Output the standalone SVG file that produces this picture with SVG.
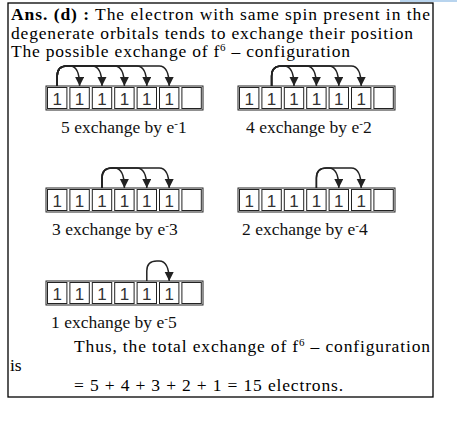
<svg xmlns="http://www.w3.org/2000/svg" width="457" height="433" viewBox="0 0 457 433">
<style>
.t{font-family:"Liberation Serif","Times New Roman",serif;font-size:17.5px;fill:#000}
.l{font-family:"Liberation Serif","Times New Roman",serif;font-size:17.5px;fill:#111}
.d{font-family:"Liberation Sans",Arial,sans-serif;font-size:17px;fill:#333;text-anchor:middle}
.o{fill:#fff;stroke:#222;stroke-width:1}
.c{fill:none;stroke:#222;stroke-width:1}
.a{fill:none;stroke:#222;stroke-width:1.5;marker-end:url(#ah)}
</style>
<defs>
<marker id="ah" markerUnits="userSpaceOnUse" markerWidth="9" markerHeight="10" refX="9" refY="4.5" orient="auto">
<path d="M0,0 L9,4.5 L0,9 z" fill="#222"/>
</marker>
<g id="cells">
<rect class="o" x="0" y="0" width="157" height="24"/>
<rect class="c" x="1.5" y="1.5" width="19.4" height="21"/>
<rect class="c" x="23.9" y="1.5" width="19.4" height="21"/>
<rect class="c" x="46.3" y="1.5" width="19.4" height="21"/>
<rect class="c" x="68.7" y="1.5" width="19.4" height="21"/>
<rect class="c" x="91.1" y="1.5" width="19.4" height="21"/>
<rect class="c" x="113.5" y="1.5" width="19.4" height="21"/>
<rect class="c" x="135.9" y="1.5" width="19.4" height="21"/>
<text class="d" x="11.2" y="18.5">1</text>
<text class="d" x="33.6" y="18.5">1</text>
<text class="d" x="56" y="18.5">1</text>
<text class="d" x="78.4" y="18.5">1</text>
<text class="d" x="100.8" y="18.5">1</text>
<text class="d" x="123.2" y="18.5">1</text>
</g>
</defs>
<rect x="400" y="0" width="57" height="2" fill="#b8d4ee"/>
<rect x="8" y="3" width="425" height="394" fill="none" stroke="#000" stroke-width="1.3"/>
<g id="header">
<text class="t" x="11" y="20" textLength="419" lengthAdjust="spacing"><tspan font-weight="bold">Ans. (d) :</tspan> The electron with same spin present in the</text>
<text class="t" x="11" y="38.5" textLength="402" lengthAdjust="spacing">degenerate orbitals tends to exchange their position</text>
<text class="t" x="11" y="57" textLength="339" lengthAdjust="spacing">The possible exchange of f<tspan font-size="11" dy="-6">6</tspan><tspan dy="6"> – configuration</tspan></text>
</g>
<g id="box-e1">
<use href="#cells" x="46" y="86"/>
<text class="l" x="61" y="133">5 exchange by e<tspan font-size="11" dy="-6">-</tspan><tspan dy="6">1</tspan></text>
</g>
<g id="box-e2">
<use href="#cells" x="238" y="86"/>
<text class="l" x="246" y="133">4 exchange by e<tspan font-size="11" dy="-6">-</tspan><tspan dy="6">2</tspan></text>
</g>
<g id="box-e3">
<use href="#cells" x="46" y="188"/>
<text class="l" x="52" y="235">3 exchange by e<tspan font-size="11" dy="-6">-</tspan><tspan dy="6">3</tspan></text>
</g>
<g id="box-e4">
<use href="#cells" x="238" y="188"/>
<text class="l" x="242" y="235">2 exchange by e<tspan font-size="11" dy="-6">-</tspan><tspan dy="6">4</tspan></text>
</g>
<g id="box-e5">
<use href="#cells" x="46" y="281"/>
<text class="l" x="51" y="328">1 exchange by e<tspan font-size="11" dy="-6">-</tspan><tspan dy="6">5</tspan></text>
</g>
<g id="connectors">
<path class="a" d="M57.2 86 L57.2 76 Q57.2 66 67 66 L70 66 Q79.6 66 79.6 86"/>
<path class="a" d="M57.2 86 L57.2 76 Q57.2 66 67 66 L92 66 Q102 66 102 86"/>
<path class="a" d="M57.2 86 L57.2 76 Q57.2 66 67 66 L114.4 66 Q124.4 66 124.4 86"/>
<path class="a" d="M57.2 86 L57.2 76 Q57.2 66 67 66 L136.8 66 Q146.8 66 146.8 86"/>
<path class="a" d="M57.2 86 L57.2 76 Q57.2 66 67 66 L159.2 66 Q169.2 66 169.2 86"/>
<path class="a" d="M271.6 86 L271.6 76 Q271.6 66 281.6 66 L284 66 Q294 66 294 86"/>
<path class="a" d="M271.6 86 L271.6 76 Q271.6 66 281.6 66 L306.4 66 Q316.4 66 316.4 86"/>
<path class="a" d="M271.6 86 L271.6 76 Q271.6 66 281.6 66 L328.8 66 Q338.8 66 338.8 86"/>
<path class="a" d="M271.6 86 L271.6 76 Q271.6 66 281.6 66 L351.2 66 Q361.2 66 361.2 86"/>
<path class="a" d="M102 188 L102 178 Q102 168 112 168 L114.4 168 Q124.4 168 124.4 188"/>
<path class="a" d="M102 188 L102 178 Q102 168 112 168 L136.8 168 Q146.8 168 146.8 188"/>
<path class="a" d="M102 188 L102 178 Q102 168 112 168 L159.2 168 Q169.2 168 169.2 188"/>
<path class="a" d="M316.4 188 L316.4 178 Q316.4 168 326.4 168 L328.8 168 Q338.8 168 338.8 188"/>
<path class="a" d="M316.4 188 L316.4 178 Q316.4 168 326.4 168 L351.2 168 Q361.2 168 361.2 188"/>
<path class="a" d="M146.8 281 L146.8 271 Q146.8 261 156.8 261 L159.2 261 Q169.2 261 169.2 281"/>
</g>
<g id="footer">
<text class="t" x="74" y="352" textLength="356" lengthAdjust="spacing">Thus, the total exchange of f<tspan font-size="11" dy="-6">6</tspan><tspan dy="6"> – configuration</tspan></text>
<text class="t" x="10" y="371">is</text>
<text class="t" x="74" y="391" textLength="269" lengthAdjust="spacing">= 5 + 4 + 3 + 2 + 1 = 15 electrons.</text>
</g>
</svg>
